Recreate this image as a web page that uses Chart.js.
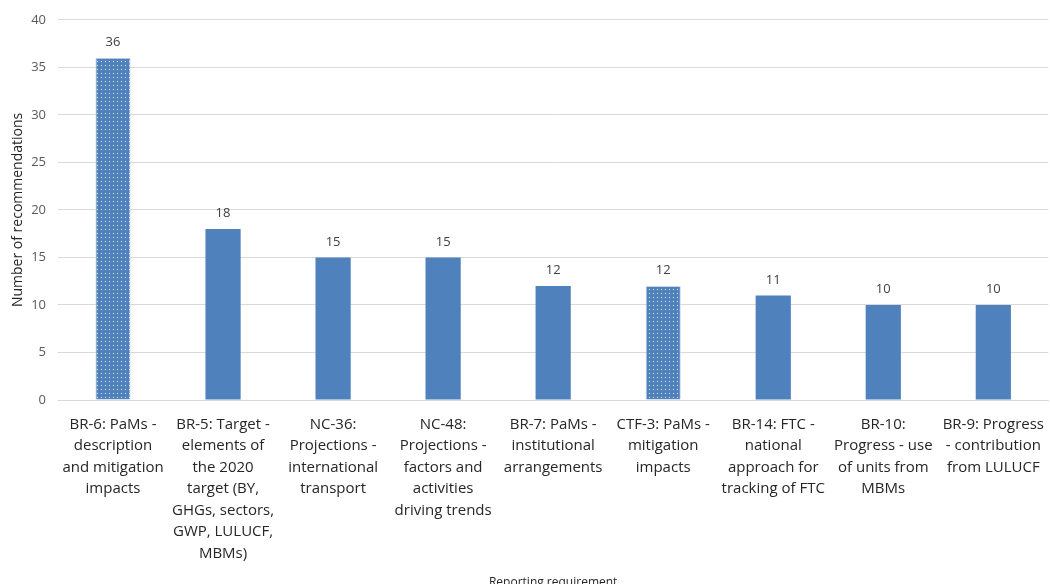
<!DOCTYPE html>
<html>
<head>
<meta charset="utf-8">
<script src="https://cdn.jsdelivr.net/npm/chart.js@4"></script>
<style>
  html, body { margin: 0; padding: 0; background: #fff; overflow: hidden; }
  #wrap { width: 1050px; height: 584px; overflow: hidden; }
</style>
</head>
<body>
<div id="wrap"><canvas id="chart" width="1050" height="594"></canvas></div>
<script>
const categories = [
    ['BR-6: PaMs -', 'description', 'and mitigation', 'impacts'],
    ['BR-5: Target -', 'elements of', 'the 2020', 'target (BY,', 'GHGs, sectors,', 'GWP, LULUCF,', 'MBMs)'],
    ['NC-36:', 'Projections -', 'international', 'transport'],
    ['NC-48:', 'Projections -', 'factors and', 'activities', 'driving trends'],
    ['BR-7: PaMs -', 'institutional', 'arrangements'],
    ['CTF-3: PaMs -', 'mitigation', 'impacts'],
    ['BR-14: FTC -', 'national', 'approach for', 'tracking of FTC'],
    ['BR-10:', 'Progress - use', 'of units from', 'MBMs'],
    ['BR-9: Progress', '- contribution', 'from LULUCF']
];
const recommendations = [36, 18, 15, 15, 12, 12, 11, 10, 10];
const dotted = [true, false, false, false, false, true, false, false, false];
const yTicks = [0, 5, 10, 15, 20, 25, 30, 35, 40];

const BLUE = '#4f81bd';
const FONT = "'Open Sans', 'Liberation Sans', sans-serif";

// dotted fill used for two of the bars
function makeDots() {
    const c = document.createElement('canvas');
    c.width = 4; c.height = 4;
    const g = c.getContext('2d');
    g.fillStyle = BLUE;
    g.fillRect(0, 0, 4, 4);
    g.fillStyle = '#dfe8f3';
    g.fillRect(1, 1, 1, 1);
    return g.createPattern(c, 'repeat');
}
const dots = makeDots();

const valueLabels = {
    id: 'valueLabels',
    afterDatasetsDraw(chart) {
        const ctx = chart.ctx;
        const meta = chart.getDatasetMeta(0);
        ctx.save();
        ctx.font = '13px ' + FONT;
        ctx.fillStyle = '#404040';
        ctx.textAlign = 'center';
        ctx.textBaseline = 'bottom';
        meta.data.forEach((bar, i) => {
            ctx.fillText(recommendations[i], bar.x, bar.y - 9);
        });
        ctx.restore();
    }
};

new Chart(document.getElementById('chart'), {
    type: 'bar',
    data: {
        labels: categories,
        datasets: [{
            data: recommendations,
            backgroundColor: dotted.map(d => d ? dots : BLUE),
            borderColor: dotted.map(d => d ? '#c9d7ea' : BLUE),
            borderWidth: dotted.map(d => d ? 1 : 0),
            categoryPercentage: 1,
            barPercentage: 0.32
        }]
    },
    options: {
        responsive: false,
        animation: false,
        layout: { padding: { top: 19, right: 0, left: 10, bottom: 0 } },
        plugins: {
            legend: { display: false },
            tooltip: { enabled: false }
        },
        scales: {
            x: {
                grid: { display: false },
                border: { color: '#d9d9d9', width: 1 },
                ticks: {
                    color: '#262626',
                    font: { family: FONT, size: 15, lineHeight: 1.43 },
                    maxRotation: 0,
                    autoSkip: false,
                    padding: 6
                },
                title: {
                    display: true,
                    text: 'Reporting requirement',
                    color: '#262626',
                    font: { family: FONT, size: 12 },
                    padding: { top: 10 }
                },
                afterFit(s) { s.height = 194; }
            },
            y: {
                min: 0,
                max: 40,
                afterBuildTicks(s) { s.ticks = yTicks.map(v => ({ value: v })); },
                grid: { color: '#d9d9d9', drawTicks: false },
                border: { display: false },
                ticks: {
                    color: '#595959',
                    font: { family: FONT, size: 13 },
                    padding: 12
                },
                title: {
                    display: true,
                    text: 'Number of recommendations',
                    color: '#262626',
                    font: { family: FONT, size: 14 },
                    padding: { top: 0, bottom: 0 }
                },
                afterFit(s) { s.width = 48; }
            }
        }
    },
    plugins: [valueLabels]
});
</script>
</body>
</html>
